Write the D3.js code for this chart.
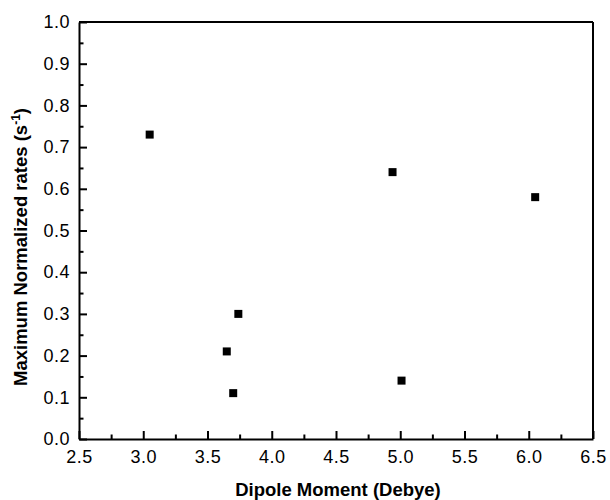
<!DOCTYPE html>
<html>
<head>
<meta charset="utf-8">
<script src="https://cdn.jsdelivr.net/npm/d3@7"></script>
<style>
  body { margin: 0; background: #fff; }
  text { font-family: "Liberation Sans", Arial, sans-serif; fill: #000; }
</style>
</head>
<body>
<div id="chart"></div>
<script>
// Data
const dipole = [3.05, 3.65, 3.70, 3.74, 4.94, 5.01, 6.05];
const maxRate = [0.73, 0.21, 0.11, 0.30, 0.64, 0.14, 0.58];
const xTicks = [2.5, 3.0, 3.5, 4.0, 4.5, 5.0, 5.5, 6.0, 6.5];
const yTicks = [0.0, 0.1, 0.2, 0.3, 0.4, 0.5, 0.6, 0.7, 0.8, 0.9, 1.0];

const width = 610;
const height = 500;
const margin = { top: 22, right: 17, bottom: 61, left: 79 };
const w = width - margin.left - margin.right;
const h = height - margin.top - margin.bottom;

const svg = d3.select('#chart')
  .append('svg')
  .attr('width', width)
  .attr('height', height)
  .append('g')
  .attr('transform', `translate(${margin.left},${margin.top})`);

const x = d3.scaleLinear().domain([2.5, 6.5]).range([0, w]);
const y = d3.scaleLinear().domain([0, 1]).range([h, 0]);

// minor ticks halfway between majors
const xMinor = xTicks.slice(1).map((t, i) => (t + xTicks[i]) / 2);
const yMinor = yTicks.slice(1).map((t, i) => (t + yTicks[i]) / 2);

// bottom axis, ticks pointing inward
const xAxis = svg.append('g')
  .attr('transform', `translate(0,${h})`)
  .call(d3.axisBottom(x).tickValues(xTicks).tickFormat(d3.format('.1f')).tickSizeInner(-8).tickSizeOuter(0).tickPadding(11));
xAxis.selectAll('text').attr('font-size', '18px').style('letter-spacing', '0.5px');
svg.append('g')
  .attr('transform', `translate(0,${h})`)
  .call(d3.axisBottom(x).tickValues(xMinor).tickFormat('').tickSizeInner(-4.5).tickSizeOuter(0))
  .select('.domain').remove();

// left axis
const yAxis = svg.append('g')
  .call(d3.axisLeft(y).tickValues(yTicks).tickFormat(d3.format('.1f')).tickSizeInner(-8).tickSizeOuter(0).tickPadding(9));
yAxis.selectAll('text').attr('font-size', '18px').style('letter-spacing', '0.5px');
svg.append('g')
  .call(d3.axisLeft(y).tickValues(yMinor).tickFormat('').tickSizeInner(-4.5).tickSizeOuter(0))
  .select('.domain').remove();

svg.selectAll('.domain, .tick line').attr('stroke', '#000').attr('stroke-width', 2);

// top and right frame lines
svg.append('line').attr('x1', 0).attr('x2', w).attr('y1', 0).attr('y2', 0)
  .attr('stroke', '#000').attr('stroke-width', 2);
svg.append('line').attr('x1', w).attr('x2', w).attr('y1', 0).attr('y2', h)
  .attr('stroke', '#000').attr('stroke-width', 2);

// square markers
const pts = dipole.map((d, i) => ({ x: d, y: maxRate[i] }));
svg.selectAll('rect.pt')
  .data(pts)
  .enter()
  .append('rect')
  .attr('class', 'pt')
  .attr('x', d => x(d.x) - 4)
  .attr('y', d => y(d.y) - 4)
  .attr('width', 8)
  .attr('height', 8)
  .attr('fill', '#000');

// axis titles
svg.append('text')
  .attr('x', w / 2 + 2)
  .attr('y', h + 57)
  .attr('text-anchor', 'middle')
  .attr('font-size', '18.5px')
  .attr('font-weight', 'bold')
  .text('Dipole Moment (Debye)');

const yt = svg.append('text')
  .attr('transform', 'rotate(-90)')
  .attr('x', -225)
  .attr('y', -52)
  .attr('text-anchor', 'middle')
  .attr('font-size', '18.5px')
  .attr('font-weight', 'bold');
yt.append('tspan').text('Maximum Normalized rates (s');
yt.append('tspan').attr('font-size', '12px').attr('dy', -7).text('-1');
yt.append('tspan').attr('dy', 7).text(')');
</script>
</body>
</html>
